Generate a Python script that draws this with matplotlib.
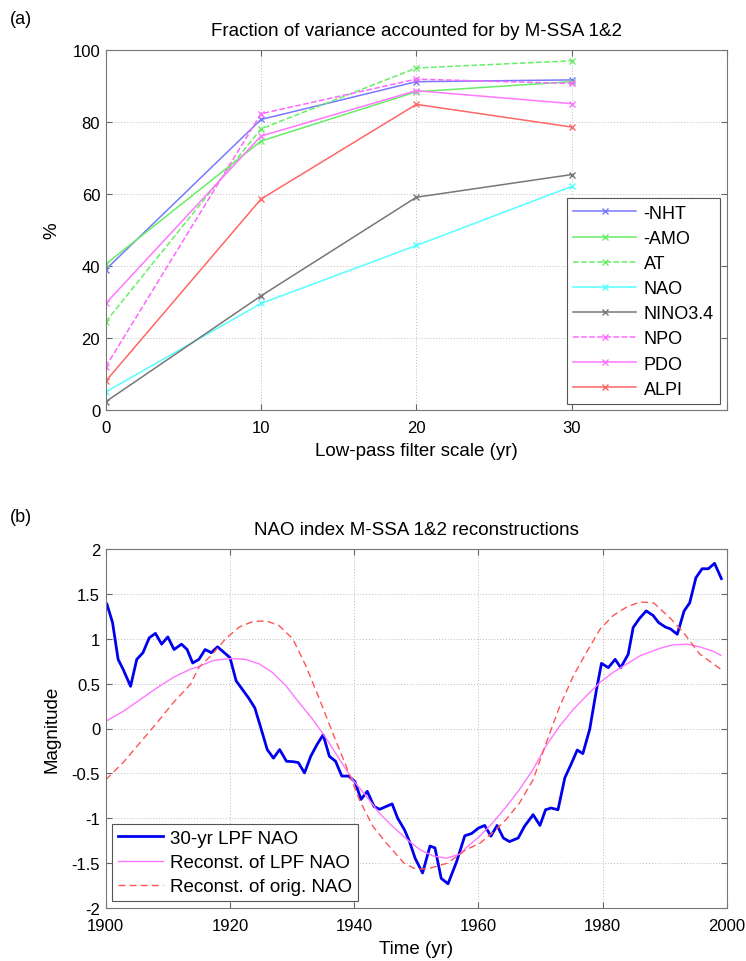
import numpy as np
import matplotlib
matplotlib.use('Agg')
import matplotlib.pyplot as plt

plt.rcParams['font.family'] = ['Liberation Sans', 'DejaVu Sans']
plt.rcParams['font.size'] = 12

# panel (a): fraction of variance vs low-pass filter scale
scales = [0, 10, 20, 30]
series_names = ['-NHT', '-AMO', 'AT', 'NAO', 'NINO3.4', 'NPO', 'PDO', 'ALPI']
nht = [39.0, 80.7, 91.2, 91.7]
amo = [40.5, 74.7, 88.4, 91.2]
at = [24.5, 78.1, 95.0, 97.0]
nao = [5.0, 29.6, 45.7, 62.1]
nino34 = [2.3, 31.7, 59.1, 65.4]
npo = [12.0, 82.3, 91.9, 90.7]
pdo = [29.6, 76.1, 88.7, 85.1]
alpi = [8.0, 58.6, 84.9, 78.6]

# panel (b): NAO index reconstructions
lpf_years = [1900.2, 1901.1, 1902, 1902.8, 1904, 1905, 1906, 1907, 1908, 1909,
             1910, 1911, 1912.2, 1913.1, 1914, 1915, 1916, 1917, 1918, 1919,
             1920, 1921, 1922, 1923, 1924, 1925, 1926, 1927, 1928, 1929.1,
             1930.2, 1931, 1932, 1933, 1934, 1935, 1936, 1937, 1938, 1939.1,
             1940.1, 1941.1, 1942.1, 1943.2, 1944.1, 1945.1, 1946.1, 1947, 1948.1, 1948.9,
             1949.8, 1951, 1952.2, 1953, 1954, 1955.1, 1956.5, 1957.8, 1958.9, 1960,
             1961, 1962, 1963, 1964, 1965, 1966.4, 1967.4, 1968.8, 1969.9, 1970.8,
             1971.7, 1972.8, 1973.9, 1975, 1975.9, 1976.8, 1977.9, 1979, 1979.8, 1980.9,
             1982, 1982.9, 1984.1, 1984.9, 1985.9, 1987, 1988.1, 1989, 1990.1, 1990.9,
             1992, 1993.1, 1994, 1995, 1996, 1997, 1998, 1999.1]
lpf_nao = [1.385, 1.18, 0.77, 0.66, 0.47, 0.77, 0.845, 1.01, 1.06, 0.94,
           1.02, 0.88, 0.94, 0.88, 0.73, 0.77, 0.88, 0.845, 0.91, 0.85,
           0.79, 0.53, 0.435, 0.34, 0.23, 0.0, -0.235, -0.33, -0.235, -0.365,
           -0.37, -0.38, -0.495, -0.31, -0.18, -0.07, -0.31, -0.365, -0.53, -0.53,
           -0.59, -0.79, -0.70, -0.87, -0.90, -0.87, -0.84, -1.0, -1.13, -1.26,
           -1.445, -1.61, -1.31, -1.33, -1.67, -1.73, -1.48, -1.195, -1.17, -1.11,
           -1.08, -1.2, -1.08, -1.22, -1.26, -1.22, -1.09, -0.96, -1.08, -0.905,
           -0.886, -0.905, -0.55, -0.384, -0.24, -0.28, -0.01, 0.435, 0.726, 0.678,
           0.77, 0.678, 0.827, 1.125, 1.225, 1.31, 1.26, 1.18, 1.13, 1.11,
           1.05, 1.31, 1.40, 1.68, 1.78, 1.78, 1.84, 1.67]

rc_years = [1900, 1902.8, 1905.5, 1908.2, 1910.9, 1913.6, 1915, 1917.2, 1920, 1922.5,
            1924.7, 1926.8, 1929, 1931.1, 1933.3, 1935.4, 1937.6, 1939.7, 1941.9, 1944,
            1946, 1948.9, 1950.6, 1952.7, 1954.8, 1957, 1958, 1960.2, 1962.3, 1964.5,
            1966.6, 1968.8, 1970.9, 1973.1, 1975.3, 1977.4, 1979.6, 1981.7, 1983.9, 1986,
            1989.3, 1991.3, 1993.5, 1995.6, 1997.8, 1999]
rc_lpf = [0.08, 0.19, 0.32, 0.45, 0.57, 0.66, 0.69, 0.756, 0.78, 0.77,
          0.72, 0.626, 0.477, 0.29, 0.104, -0.1, -0.34, -0.566, -0.75, -0.94,
          -1.08, -1.26, -1.35, -1.42, -1.445, -1.40, -1.33, -1.20, -1.05, -0.87,
          -0.68, -0.455, -0.19, 0.03, 0.216, 0.366, 0.515, 0.627, 0.72, 0.81,
          0.896, 0.93, 0.94, 0.91, 0.86, 0.815]

ro_years = [1900, 1902.8, 1905.5, 1908.2, 1910.9, 1913.6, 1915, 1917.2, 1919.3, 1921.5,
            1923.6, 1925.8, 1927.9, 1930.1, 1932.2, 1934.4, 1936.5, 1938.7, 1940.8, 1943,
            1945.1, 1948, 1950, 1952, 1955, 1958, 1960.2, 1962.3, 1964.5, 1966.6,
            1968.8, 1970.9, 1973.1, 1975.3, 1977.4, 1979.6, 1981.7, 1983.9, 1986, 1988.2,
            1991, 1993, 1995.6, 1997.2, 1999]
rc_orig = [-0.57, -0.38, -0.16, 0.06, 0.29, 0.49, 0.68, 0.83, 1.0, 1.13,
           1.19, 1.20, 1.147, 1.0, 0.70, 0.33, -0.045, -0.417, -0.79, -1.09,
           -1.27, -1.5, -1.57, -1.56, -1.5, -1.35, -1.28, -1.16, -1.01, -0.83,
           -0.57, -0.16, 0.25, 0.59, 0.85, 1.11, 1.26, 1.355, 1.41, 1.40,
           1.22, 1.07, 0.83, 0.75, 0.66]

colors = ['#7878ff', '#66ee66', '#66ee66', '#55ffff', '#777777', '#ff66ff', '#ff77ff', '#ff6666']
styles = ['-', '-', '--', '-', '-', '--', '-', '-']
data_a = [nht, amo, at, nao, nino34, npo, pdo, alpi]

fig = plt.figure(figsize=(7.46, 9.62), dpi=100)
ax1 = fig.add_axes([0.1417, 1 - 411 / 962, 0.8328, 360 / 962])
ax2 = fig.add_axes([0.1417, 1 - 909 / 962, 0.8328, 359 / 962])


def style_axes(ax):
    ax.grid(True, linestyle=(0, (1, 2)), color='#bbbbbb', linewidth=0.7)
    ax.tick_params(direction='in', top=True, right=True, length=4,
                   color='#666666', labelsize=12, pad=4)
    ax.tick_params(axis='x', pad=7)
    for sp in ax.spines.values():
        sp.set_color('#777777')
        sp.set_linewidth(0.8)


for name, vals, c, ls in zip(series_names, data_a, colors, styles):
    ax1.plot(scales, vals, color=c, linestyle=ls, marker='x', markersize=5,
             linewidth=1.1, label=name)
ax1.set_xlim(0, 40)
ax1.set_ylim(0, 100)
ax1.set_xticks([0, 10, 20, 30, 40])
ax1.set_xticklabels(['0', '10', '20', '30', ''])
ax1.set_yticks(range(0, 101, 20))
style_axes(ax1)
ax1.set_title('Fraction of variance accounted for by M-SSA 1&2', fontsize=13.5, pad=11)
ax1.set_xlabel('Low-pass filter scale (yr)', fontsize=13.5)
ax1.xaxis.set_label_coords(0.5, -41 / 360)
ax1.xaxis.label.set_va('center')
ax1.set_ylabel('%', fontsize=13.5)
ax1.yaxis.set_label_coords(-0.0864, 0.5)
ax1.yaxis.label.set_va('center')
leg1 = ax1.legend(loc='lower right', bbox_to_anchor=(0.9887, 0.0167), borderaxespad=0,
                  fontsize=13, fancybox=False, edgecolor='#555555', framealpha=1,
                  handlelength=3.5, handletextpad=0.4, labelspacing=0.45, borderpad=0.35)
leg1.get_frame().set_linewidth(0.8)

ax2.plot(lpf_years, lpf_nao, color='#0000ee', linewidth=2.0, label='30-yr LPF NAO')
ax2.plot(rc_years, rc_lpf, color='#ff77ff', linewidth=1.0, label='Reconst. of LPF NAO')
ax2.plot(ro_years, rc_orig, color='#ff5555', linewidth=1.0, linestyle=(0, (5, 3)),
         label='Reconst. of orig. NAO')
ax2.set_xlim(1900, 2000)
ax2.set_ylim(-2, 2)
ax2.set_xticks(range(1900, 2001, 20))
ax2.set_yticks(np.arange(-2, 2.01, 0.5))
ax2.set_yticklabels(['-2', '-1.5', '-1', '-0.5', '0', '0.5', '1', '1.5', '2'])
style_axes(ax2)
ax2.set_title('NAO index M-SSA 1&2 reconstructions', fontsize=13.5, pad=11)
ax2.set_xlabel('Time (yr)', fontsize=13.5)
ax2.xaxis.set_label_coords(0.5, -41 / 359)
ax2.xaxis.label.set_va('center')
ax2.set_ylabel('Magnitude', fontsize=13.5)
ax2.yaxis.set_label_coords(-0.0864, 0.5)
ax2.yaxis.label.set_va('center')
leg2 = ax2.legend(loc='lower left', bbox_to_anchor=(0.010, 0.0195), borderaxespad=0,
                  fontsize=13.5, fancybox=False, edgecolor='#555555', framealpha=1,
                  handlelength=2.4, handletextpad=0.4, labelspacing=0.38, borderpad=0.3)
leg2.get_frame().set_linewidth(0.8)

fig.text(10 / 746, 1 - 20 / 962, '(a)', fontsize=13, va='center')
fig.text(10 / 746, 1 - 518 / 962, '(b)', fontsize=13, va='center')

plt.savefig('out.png', dpi=100)
